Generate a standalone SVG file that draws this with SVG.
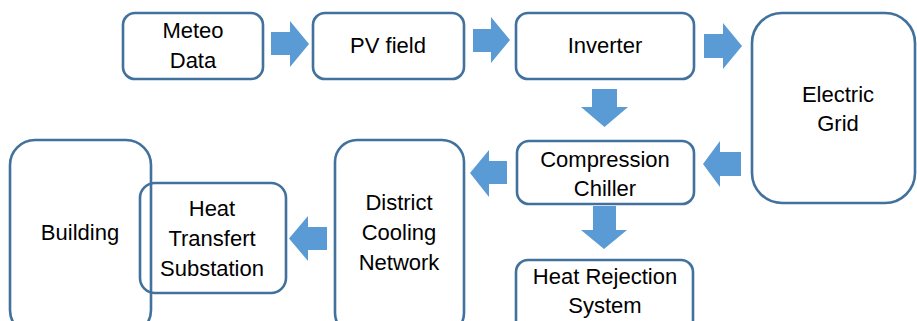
<svg xmlns="http://www.w3.org/2000/svg" width="917" height="321" viewBox="0 0 917 321">
<style>
.box{fill:none;stroke:#41719C;stroke-width:2.6}
.arr{fill:#5B9BD5;stroke:none}
text{font-family:"Liberation Sans",Arial,sans-serif;font-size:22px;fill:#000;text-anchor:middle}
</style>
<rect width="917" height="321" fill="#fff"/>
<g id="meteo"><rect class="box" x="123" y="13" width="140" height="66" rx="12"/><text x="193" y="38">Meteo</text><text x="193" y="68">Data</text></g>
<g id="pv"><rect class="box" x="313" y="13" width="151" height="66" rx="12"/><text x="388" y="53">PV field</text></g>
<g id="inverter"><rect class="box" x="516" y="13" width="178" height="66" rx="12"/><text x="605" y="53">Inverter</text></g>
<g id="grid"><rect class="box" x="752" y="13" width="163" height="190" rx="30"/><text x="838" y="102">Electric</text><text x="838" y="131">Grid</text></g>
<g id="chiller"><rect class="box" x="517" y="141" width="177" height="63" rx="12"/><text x="605" y="167">Compression</text><text x="605" y="196">Chiller</text></g>
<g id="rejection"><rect class="box" x="516" y="260" width="177" height="75" rx="12"/><text x="605" y="284">Heat Rejection</text><text x="605" y="313">System</text></g>
<g id="building"><rect class="box" x="10" y="140" width="141" height="195" rx="25"/><text x="80" y="240">Building</text></g>
<g id="substation"><rect class="box" x="140" y="183" width="146" height="110" rx="15"/><text x="212" y="216">Heat</text><text x="212" y="246">Transfert</text><text x="212" y="276">Substation</text></g>
<g id="dcn"><rect class="box" x="335" y="140" width="129" height="195" rx="22"/><text x="399" y="210">District</text><text x="399" y="240">Cooling</text><text x="399" y="270">Network</text></g>
<g id="connectors">
<polygon class="arr" points="271,32 290,32 290,21 309,44 290,67 290,55 271,55"/>
<polygon class="arr" points="473,29 491,29 491,17 510,40 491,63 491,52 473,52"/>
<polygon class="arr" points="704,34 723,34 723,23 742,46 723,69 723,58 704,58"/>
<polygon class="arr" points="592,89 617,89 617,107 628,107 604.5,127 581,107 592,107"/>
<polygon class="arr" points="741,152 720,152 720,141 703,164 720,187 720,176 741,176"/>
<polygon class="arr" points="507,161 489,161 489,150 470,173 489,197 489,184 507,184"/>
<polygon class="arr" points="593,206 616,206 616,230 627,230 604,249 581,230 593,230"/>
<polygon class="arr" points="327,227 308,227 308,216 289,238.5 308,261 308,250 327,250"/>
</g>
</svg>
